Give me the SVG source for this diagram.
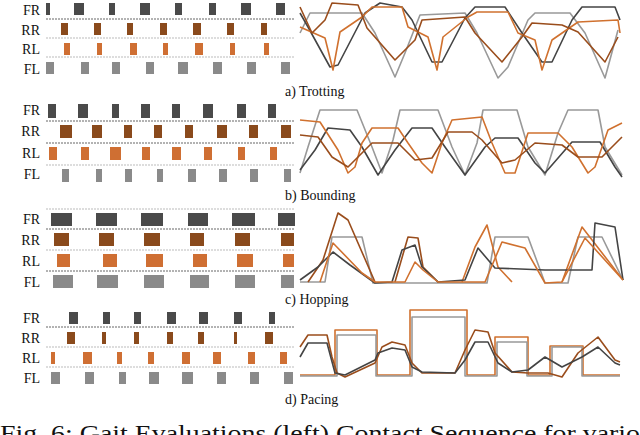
<svg xmlns="http://www.w3.org/2000/svg" width="640" height="435" viewBox="0 0 640 435">
<style>
text{font-family:"Liberation Serif",serif;fill:#111}
.lb{font-size:14px;text-anchor:end}
.cap{font-size:14px}
.fr{fill:#4a4a4a}.rr{fill:#8a4a1c}.rl{fill:#cf6f33}.fl{fill:#8a8a8a}
.sep{stroke:#666;stroke-width:1;stroke-dasharray:2 1}
.sep2{stroke:#bbb;stroke-width:1;stroke-dasharray:2 1}
polyline{fill:none;stroke-width:1.6;stroke-linejoin:round}
.cg{stroke:#999}.cd{stroke:#444}.co{stroke:#d0712f}.cb{stroke:#9a4d1c}
</style>
<rect width="640" height="435" fill="#fff"/>
<g id="trotting">
<text class="lb" x="40" y="15">FR</text><text class="lb" x="40" y="35">RR</text><text class="lb" x="40" y="54">RL</text><text class="lb" x="40" y="74">FL</text>
<line class="sep" x1="46" y1="19" x2="295" y2="19"/><line class="sep2" x1="46" y1="38" x2="295" y2="38"/><line class="sep2" x1="46" y1="57" x2="295" y2="57"/>
<g class="fr"><rect x="46" y="3" width="4" height="12"/><rect x="74" y="3" width="10" height="12"/><rect x="109" y="3" width="6" height="12"/><rect x="140" y="3" width="10" height="12"/><rect x="175" y="3" width="7" height="12"/><rect x="209" y="3" width="7" height="12"/><rect x="241" y="3" width="10" height="12"/><rect x="276" y="3" width="9" height="12"/></g>
<g class="rr"><rect x="61" y="23" width="7" height="12"/><rect x="94" y="23" width="7" height="12"/><rect x="127" y="23" width="6" height="12"/><rect x="160" y="23" width="7" height="12"/><rect x="193" y="23" width="8" height="12"/><rect x="227" y="23" width="7" height="12"/><rect x="261" y="23" width="6" height="12"/></g>
<g class="rl"><rect x="64" y="43" width="6" height="12"/><rect x="97" y="43" width="5" height="12"/><rect x="130" y="43" width="7" height="12"/><rect x="163" y="43" width="5" height="12"/><rect x="195" y="43" width="8" height="12"/><rect x="230" y="43" width="5" height="12"/><rect x="264" y="43" width="5" height="12"/></g>
<g class="fl"><rect x="46" y="62" width="8" height="12"/><rect x="81" y="62" width="8" height="12"/><rect x="112" y="62" width="8" height="12"/><rect x="146" y="62" width="8" height="12"/><rect x="178" y="62" width="10" height="12"/><rect x="213" y="62" width="9" height="12"/><rect x="247" y="62" width="9" height="12"/><rect x="281" y="62" width="9" height="12"/></g>
<polyline class="cg" points="300,33 310,13 362,13 375,33 395,77 405,53 420,15 465,13 477,33 498,78 508,67 528,20 535,13 570,13 585,33 605,78 618,30"/>
<polyline class="cd" points="300,13 308,27 330,67 338,65 365,13 380,3 402,7 412,20 432,62 442,62 465,18 475,7 505,7 522,33 542,62 552,62 572,20 582,7 615,7 620,20"/>
<polyline class="co" points="300,27 325,38 333,70 340,32 362,17 372,7 402,7 408,27 428,37 437,70 443,37 468,17 477,12 508,12 518,33 535,40 542,70 552,40 578,22 618,20 620,33"/>
<polyline class="cb" points="300,7 312,33 325,20 332,3 358,5 367,28 395,60 415,40 422,20 465,17 475,33 502,62 522,37 532,23 562,25 578,32 605,62 618,37"/>
<text class="cap" x="285" y="96">a) Trotting</text>
</g>
<g id="bounding">
<text class="lb" x="40" y="115">FR</text><text class="lb" x="40" y="136">RR</text><text class="lb" x="40" y="158">RL</text><text class="lb" x="40" y="179">FL</text>
<line class="sep" x1="46" y1="121" x2="295" y2="121"/><line class="sep" x1="46" y1="143" x2="295" y2="143"/><line class="sep2" x1="46" y1="165" x2="295" y2="165"/>
<g class="fr"><rect x="48" y="104" width="8" height="14"/><rect x="78" y="104" width="10" height="14"/><rect x="112" y="104" width="7" height="14"/><rect x="141" y="104" width="9" height="14"/><rect x="172" y="104" width="8" height="14"/><rect x="203" y="104" width="10" height="14"/><rect x="237" y="104" width="9" height="14"/><rect x="268" y="104" width="8" height="14"/></g>
<g class="rr"><rect x="60" y="125" width="12" height="13"/><rect x="92" y="125" width="10" height="13"/><rect x="124" y="125" width="8" height="13"/><rect x="154" y="125" width="8" height="13"/><rect x="185" y="125" width="8" height="13"/><rect x="217" y="125" width="10" height="13"/><rect x="249" y="125" width="9" height="13"/><rect x="281" y="125" width="10" height="13"/></g>
<g class="rl"><rect x="49" y="147" width="8" height="13"/><rect x="81" y="147" width="8" height="13"/><rect x="110" y="147" width="11" height="13"/><rect x="142" y="147" width="8" height="13"/><rect x="172" y="147" width="9" height="13"/><rect x="204" y="147" width="8" height="13"/><rect x="238" y="147" width="7" height="13"/><rect x="270" y="147" width="7" height="13"/></g>
<g class="fl"><rect x="62" y="169" width="7" height="13"/><rect x="96" y="169" width="6" height="13"/><rect x="125" y="169" width="7" height="13"/><rect x="157" y="169" width="6" height="13"/><rect x="188" y="169" width="8" height="13"/><rect x="219" y="169" width="8" height="13"/><rect x="250" y="169" width="8" height="13"/><rect x="284" y="169" width="7" height="13"/></g>
<polyline class="cg" points="300,173 308,147 320,110 357,110 372,147 382,173 393,140 400,110 438,110 452,147 465,175 477,143 483,110 517,110 528,147 545,175 558,133 568,110 598,110 605,147 622,175"/>
<polyline class="cd" points="300,170 315,150 328,128 350,130 362,147 378,175 395,150 412,128 432,128 445,147 465,175 485,147 495,138 518,138 535,163 545,173 572,142 600,142 615,167 622,177"/>
<polyline class="co" points="300,120 320,122 338,150 348,173 355,167 362,143 372,128 398,128 408,143 422,163 432,173 442,143 452,120 482,117 492,143 505,173 515,173 528,133 558,133 572,147 588,173 595,167 608,130 622,123"/>
<polyline class="cb" points="300,135 318,137 332,157 348,167 372,143 398,143 415,160 432,158 448,132 472,132 482,140 502,163 515,160 535,143 562,145 578,157 602,157 622,137"/>
<text class="cap" x="285" y="200">b) Bounding</text>
</g>
<g id="hopping">
<text class="lb" x="40" y="224">FR</text><text class="lb" x="40" y="245">RR</text><text class="lb" x="40" y="266">RL</text><text class="lb" x="40" y="287">FL</text>
<line class="sep2" x1="46" y1="209" x2="295" y2="209"/><line class="sep" x1="46" y1="229" x2="295" y2="229"/><line class="sep2" x1="46" y1="250" x2="295" y2="250"/><line class="sep" x1="46" y1="271" x2="295" y2="271"/>
<g class="fr"><rect x="51" y="213" width="21" height="13"/><rect x="96" y="213" width="21" height="13"/><rect x="141" y="213" width="22" height="13"/><rect x="188" y="213" width="20" height="13"/><rect x="232" y="213" width="23" height="13"/><rect x="278" y="213" width="17" height="13"/></g>
<g class="rr"><rect x="54" y="233" width="15" height="13"/><rect x="99" y="233" width="15" height="13"/><rect x="144" y="233" width="16" height="13"/><rect x="190" y="233" width="14" height="13"/><rect x="235" y="233" width="15" height="13"/><rect x="281" y="233" width="13" height="13"/></g>
<g class="rl"><rect x="57" y="254" width="13" height="13"/><rect x="103" y="254" width="14" height="13"/><rect x="146" y="254" width="17" height="13"/><rect x="193" y="254" width="14" height="13"/><rect x="237" y="254" width="16" height="13"/><rect x="283" y="254" width="11" height="13"/></g>
<g class="fl"><rect x="53" y="275" width="20" height="13"/><rect x="97" y="275" width="21" height="13"/><rect x="144" y="275" width="20" height="13"/><rect x="190" y="275" width="19" height="13"/><rect x="235" y="275" width="20" height="13"/><rect x="281" y="275" width="13" height="13"/></g>
<polyline class="cg" points="300,282 325,282 332,237 362,237 373,283 487,283 495,237 528,237 545,283 568,283 578,237 602,237 623,280"/>
<polyline class="cb" points="308,282 323,260 338,213 348,220 375,282"/>
<polyline class="cb" points="395,282 408,237 418,238 423,267 438,282"/>
<polyline class="co" points="462,282 475,247 487,225 498,267 512,282"/>
<polyline class="co" points="562,282 582,227 623,280"/>
<polyline class="cd" points="300,280 318,267 333,252 350,265 375,283 392,282 402,250 415,245 422,267 438,282 465,280 478,248 495,268 545,270 572,270 592,270 595,223 615,227 623,280"/>
<polyline class="co" points="320,282 333,243 362,273 375,282 405,282 415,262 423,270 438,282 485,282 502,242 525,248 545,283 562,282 585,238 623,280"/>
<text class="cap" x="285" y="304">c) Hopping</text>
</g>
<g id="pacing">
<text class="lb" x="40" y="323">FR</text><text class="lb" x="40" y="343">RR</text><text class="lb" x="40" y="363">RL</text><text class="lb" x="40" y="383">FL</text>
<line class="sep" x1="46" y1="327" x2="295" y2="327"/><line class="sep2" x1="46" y1="347" x2="295" y2="347"/><line class="sep2" x1="46" y1="367" x2="295" y2="367"/>
<g class="fr"><rect x="69" y="312" width="9" height="12"/><rect x="103" y="312" width="7" height="12"/><rect x="134" y="312" width="7" height="12"/><rect x="167" y="312" width="9" height="12"/><rect x="199" y="312" width="9" height="12"/><rect x="234" y="312" width="8" height="12"/><rect x="269" y="312" width="6" height="12"/></g>
<g class="rr"><rect x="67" y="332" width="8" height="12"/><rect x="102" y="332" width="4" height="12"/><rect x="134" y="332" width="5" height="12"/><rect x="167" y="332" width="6" height="12"/><rect x="198" y="332" width="6" height="12"/><rect x="234" y="332" width="3" height="12"/><rect x="265" y="332" width="8" height="12"/></g>
<g class="rl"><rect x="51" y="352" width="4" height="12"/><rect x="83" y="352" width="9" height="12"/><rect x="117" y="352" width="5" height="12"/><rect x="148" y="352" width="6" height="12"/><rect x="182" y="352" width="8" height="12"/><rect x="213" y="352" width="8" height="12"/><rect x="248" y="352" width="7" height="12"/><rect x="280" y="352" width="7" height="12"/></g>
<g class="fl"><rect x="51" y="372" width="9" height="12"/><rect x="85" y="372" width="9" height="12"/><rect x="119" y="372" width="7" height="12"/><rect x="149" y="372" width="10" height="12"/><rect x="182" y="372" width="11" height="12"/><rect x="217" y="372" width="9" height="12"/><rect x="250" y="372" width="9" height="12"/><rect x="284" y="372" width="9" height="12"/></g>
<polyline class="co" points="300,375 335,375 335,330 377,330 377,375 410,375 410,310 467,310 467,375 495,375 495,337 528,337 528,375 550,375 550,346 583,346 583,375 620,375"/>
<polyline class="cg" points="300,376 337,376 337,335 376,335 376,376 412,376 412,317 465,317 465,376 497,376 497,342 527,342 527,376 552,376 552,347 582,347 582,376 620,376"/>
<polyline class="cb" points="300,347 308,335 327,335 332,357 337,373 345,377 375,363 382,347 392,342 405,345 412,363 422,373 455,373 465,350 475,330 488,332 495,353 512,372 528,373 548,373 562,377 578,353 598,337 615,360 620,362"/>
<polyline class="cd" points="300,357 308,343 327,343 335,373 345,375 375,360 378,353 392,348 405,350 412,367 422,372 455,373 465,360 475,342 488,342 498,363 512,372 528,370 545,357 562,367 582,357 598,347 615,363 620,365"/>
<text class="cap" x="285" y="404">d) Pacing</text>
</g>
<text x="0" y="441" textLength="640" lengthAdjust="spacingAndGlyphs" style="font-size:24px">Fig. 6: Gait Evaluations (left) Contact Sequence for vario</text>
</svg>
